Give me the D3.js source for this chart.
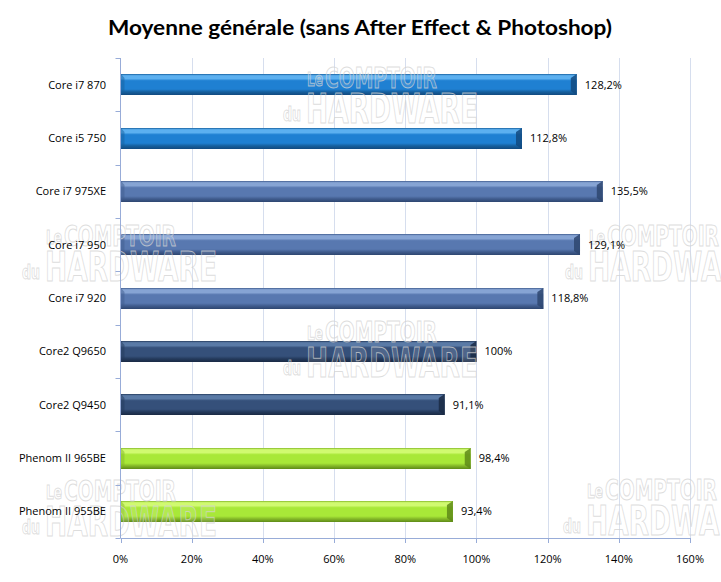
<!DOCTYPE html>
<html><head><meta charset="utf-8">
<script src="https://cdn.jsdelivr.net/npm/d3@7"></script>
<style>body{margin:0;background:#fff}svg{display:block}</style>
</head><body>
<svg id="c" width="721" height="582"></svg>
<script>
const title = "Moyenne générale (sans After Effect & Photoshop)";
const categories = ["Core i7 870","Core i5 750","Core i7 975XE","Core i7 950","Core i7 920","Core2 Q9650","Core2 Q9450","Phenom II 965BE","Phenom II 955BE"];
const values = [128.2,112.8,135.5,129.1,118.8,100,91.1,98.4,93.4];
const groups = ["lynn","lynn","bloom","bloom","bloom","c2","c2","ph","ph"];
const xTicks = [0,20,40,60,80,100,120,140,160];

const palette = {
  lynn:{hi:"#5cb0f0",body:"#1f80d2",lo:"#16609e",edge:"#124a80"},
  bloom:{hi:"#86a4d4",body:"#5878b0",lo:"#405c8e",edge:"#2e4670"},
  c2:{hi:"#5a7aa6",body:"#35507a",lo:"#243a5c",edge:"#1a2a44"},
  ph:{hi:"#d0fa70",body:"#a8e838",lo:"#84b828",edge:"#5e8a18"}
};

const svg = d3.select("#c");
const L=120.5, R=690, T=58, B=538;
const x = d3.scaleLinear().domain([0,160]).range([L,R]);
const y = d3.scaleBand().domain(categories).range([T,B]);
const barH = 21;
const fmt = v => (Number.isInteger(v)? String(v) : v.toFixed(1).replace(".",",")) + "%";

const defs = svg.append("defs");
Object.entries(palette).forEach(([k,p])=>{
  const g = defs.append("linearGradient").attr("id","g_"+k).attr("x1",0).attr("y1",0).attr("x2",0).attr("y2",1);
  [[0,p.lo],[0.08,p.hi],[0.22,p.hi],[0.32,p.body],[0.72,p.body],[0.85,p.lo],[1,p.edge]].forEach(([o,c])=>g.append("stop").attr("offset",o).attr("stop-color",c));
});

svg.append("text").attr("x",360).attr("y",35).attr("text-anchor","middle")
  .attr("font-family","Lato, 'Open Sans', sans-serif").attr("font-weight","bold").attr("font-size",21)
  .attr("textLength",504).attr("lengthAdjust","spacingAndGlyphs").attr("fill","#000").text(title);

svg.append("g").selectAll("line").data(xTicks.slice(1)).join("line")
  .attr("x1",d=>Math.round(x(d))+0.5).attr("x2",d=>Math.round(x(d))+0.5).attr("y1",T).attr("y2",B)
  .attr("stroke","#d6deee").attr("stroke-width",1);

const bars = svg.append("g").selectAll("g").data(categories).join("g")
  .attr("transform",(d,i)=>`translate(0,${Math.round(y(d)+y.bandwidth()/2-barH/2)})`);
bars.append("rect").attr("x",L+0.5).attr("y",0).attr("width",(d,i)=>x(values[i])-L-0.5).attr("height",barH)
  .attr("fill",(d,i)=>`url(#g_${groups[i]})`);
bars.append("path").attr("d",(d,i)=>{const xe=x(values[i]);return `M${xe-6},4 L${xe},0 L${xe},${barH} L${xe-6},${barH-4} Z`;})
  .attr("fill",(d,i)=>palette[groups[i]].edge).attr("opacity",0.85);
bars.append("path").attr("d",()=>`M${L+0.5},0 L${L+4},4 L${L+4},${barH-4} L${L+0.5},${barH} Z`)
  .attr("fill",(d,i)=>palette[groups[i]].lo).attr("opacity",0.5);

const wmPos = [[283,123],[22,281],[565,281],[283,377],[22,536],[563,535]];
const wm = svg.append("g").attr("fill","#fff").attr("fill-opacity",0.15).attr("stroke","#d2d2d2").attr("stroke-opacity",0.75).attr("stroke-width",1)
  .attr("font-family","'Liberation Sans Narrow','Arial Narrow','DejaVu Sans Condensed',sans-serif").attr("font-weight","bold");
wmPos.forEach(([px,py])=>{
  const g = wm.append("g").attr("transform",`translate(${px},${py})`);
  g.append("text").attr("x",0).attr("y",-2).attr("font-size",20).attr("textLength",18).attr("lengthAdjust","spacingAndGlyphs").text("du");
  g.append("text").attr("x",23).attr("y",0).attr("font-size",41).attr("textLength",172).attr("lengthAdjust","spacingAndGlyphs").text("HARDWARE");
  g.append("text").attr("x",24).attr("y",-37).attr("font-size",20).attr("textLength",16).attr("lengthAdjust","spacingAndGlyphs").text("Le");
  g.append("text").attr("x",42).attr("y",-35).attr("font-size",28).attr("textLength",112).attr("lengthAdjust","spacingAndGlyphs").text("COMPTOIR");
});

const axisCol = "#98acd8";
svg.append("line").attr("x1",L).attr("x2",L).attr("y1",T).attr("y2",B).attr("stroke",axisCol);
svg.append("line").attr("x1",L).attr("x2",R+1).attr("y1",B+0.5).attr("y2",B+0.5).attr("stroke",axisCol);
svg.append("g").selectAll("line").data(xTicks).join("line")
  .attr("x1",d=>Math.round(x(d))+0.5).attr("x2",d=>Math.round(x(d))+0.5).attr("y1",B).attr("y2",B+5).attr("stroke",axisCol);
const bounds = categories.map(c=>y(c)).concat([B]);
svg.append("g").selectAll("line").data(bounds).join("line")
  .attr("x1",L-5).attr("x2",L).attr("y1",d=>Math.round(d)+0.5).attr("y2",d=>Math.round(d)+0.5).attr("stroke",axisCol);

const fontF = "'Open Sans', Lato, sans-serif";
svg.append("g").selectAll("text").data(xTicks).join("text")
  .attr("x",d=>x(d)).attr("y",563).attr("text-anchor","middle").attr("font-family",fontF).attr("font-size",11)
  .attr("fill","#000").text(d=>d+"%");
svg.append("g").selectAll("text").data(categories).join("text")
  .attr("x",106).attr("y",d=>y(d)+y.bandwidth()/2+4).attr("text-anchor","end").attr("font-family",fontF).attr("font-size",11)
  .attr("fill","#000").text(d=>d);
svg.append("g").selectAll("text").data(categories).join("text")
  .attr("x",(d,i)=>x(values[i])+8).attr("y",d=>y(d)+y.bandwidth()/2+4).attr("font-family",fontF).attr("font-size",11)
  .attr("fill","#000").text((d,i)=>fmt(values[i]));
</script>
</body></html>
